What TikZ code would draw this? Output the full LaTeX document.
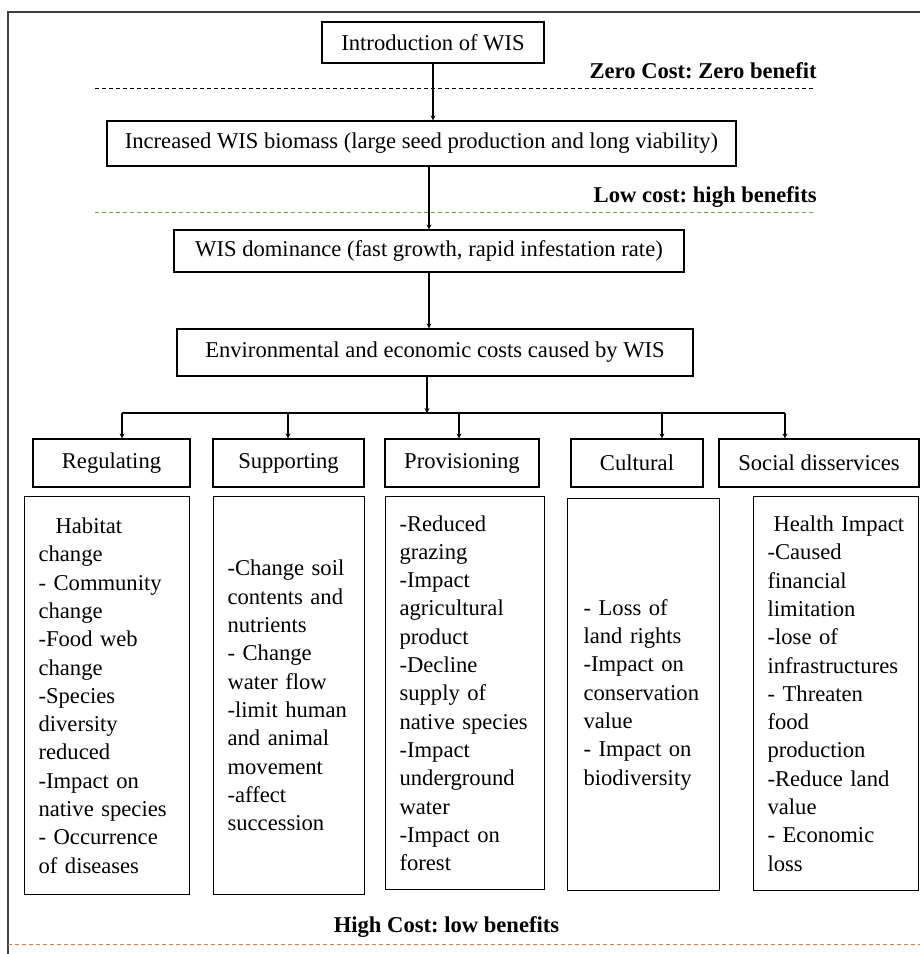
\documentclass[tikz,border=0pt]{standalone}
\usepackage{fontspec}
\setmainfont{Liberation Serif}
\frenchspacing
\usetikzlibrary{arrows.meta}
\definecolor{linegreen}{HTML}{70AD47}
\definecolor{lineorange}{HTML}{ED7D31}
\definecolor{framegray}{HTML}{404040}

\begin{document}
\begin{tikzpicture}[x=1pt, y=-1pt, thick,
    main node/.style={draw, line width=1.2pt, inner sep=0pt,
                      font=\fontsize{22.6}{28.3}\selectfont},
    head node/.style={main node, minimum height=48pt},
    list node/.style={main node, anchor=north west, align=left, inner xsep=14pt},
    cost label/.style={inner sep=0pt, font=\fontsize{22.6}{27}\selectfont\bfseries},
    cost line/.style={line width=1pt, dash pattern=on 4pt off 3pt},
    link/.style={line width=2pt, -{Stealth[length=5pt,width=5pt]}}]

  \useasboundingbox (0,0) rectangle (920,954);

  % frame
  \draw[framegray, line width=1.3pt] (920,12) -- (8,12) -- (8,954);

  % main chain
  \node[main node, minimum width=222pt, minimum height=41pt] (intro) at (433,42.5) {Introduction of WIS};
  \node[main node, minimum width=629pt, minimum height=45pt] (biomass) at (421.5,143.5)
    {Increased WIS biomass (large seed production and long viability)};
  \node[main node, minimum width=510pt, minimum height=42pt] (dominance) at (429,251)
    {WIS dominance (fast growth, rapid infestation rate)};
  \node[main node, minimum width=516pt, minimum height=47pt] (costs) at (435,352.5)
    {Environmental and economic costs caused by WIS};

  % cost levels
  \node[cost label, anchor=base east] (zero) at (817,78) {Zero Cost: Zero benefit};
  \draw[cost line] (95,88) -- (815,88);
  \node[cost label, anchor=base east] (low) at (817,202) {Low cost: high benefits};
  \draw[cost line, linegreen] (95,212) -- (815,212);
  \node[cost label, anchor=base] (high) at (446.5,932) {High Cost: low benefits};
  \draw[cost line, lineorange] (8,944) -- (920,944);

  % service types
  \node[head node, minimum width=157pt] (reg) at (111.5,463) {Regulating};
  \node[head node, minimum width=151pt] (sup) at (288.5,463) {Supporting};
  \node[head node, minimum width=154pt] (prov) at (462,463) {Provisioning};
  \node[head node, minimum width=132pt] (cult) at (637,463) {Cultural};
  \node[head node, minimum width=200pt] (soc) at (819,463) {Social disservices};

  % impacts
  \node[list node, text width=137pt, minimum height=398pt] (regl) at (24,496)
    {\hspace*{17pt}Habitat\\ change\\ - Community\\ change\\ -Food web\\ change\\ -Species\\
     diversity\\ reduced\\ -Impact on\\ native species\\ - Occurrence\\ of diseases};
  \node[list node, text width=123pt, minimum height=398pt] (supl) at (213,496)
    {-Change soil\\ contents and\\ nutrients\\ - Change\\ water flow\\ -limit human\\
     and animal\\ movement\\ -affect\\ succession};
  \node[list node, text width=131pt, minimum height=393pt] (provl) at (385,496)
    {-Reduced\\ grazing\\ -Impact\\ agricultural\\ product\\ -Decline\\ supply of\\
     native species\\ -Impact\\ underground\\ water\\ -Impact on\\ forest};
  \node[list node, inner xsep=16pt, text width=120pt, minimum height=392pt] (cultl) at (567,498)
    {- Loss of\\ land rights\\ -Impact on\\ conservation\\ value\\ - Impact on\\ biodiversity};
  \node[list node, text width=137pt, minimum height=394pt] (socl) at (753,496)
    {\hspace*{6pt}Health Impact\\ -Caused\\ financial\\ limitation\\ -lose of\\
     infrastructures\\ - Threaten\\ food\\ production\\ -Reduce land\\ value\\
     - Economic\\ loss};

  % connectors
  \coordinate (split) at (427,413);
  \coordinate (b1) at (122,413);
  \coordinate (b2) at (288,413);
  \coordinate (b3) at (459,413);
  \coordinate (b4) at (662,413);
  \coordinate (b5) at (785,413);

  \draw[link] (intro) -- (intro |- biomass.north);
  \draw[link] (dominance |- biomass.south) -- (dominance.north);
  \draw[link] (dominance.south) -- (dominance.south |- costs.north);
  \draw[link] (costs.south -| split) -- (split);
  \draw[line width=2pt] (b1) -- (b5);
  \draw[link] (b1) -- (b1 |- reg.north);
  \draw[link] (b2) -- (b2 |- sup.north);
  \draw[link] (b3) -- (b3 |- prov.north);
  \draw[link] (b4) -- (b4 |- cult.north);
  \draw[link] (b5) -- (b5 |- soc.north);

\end{tikzpicture}
\end{document}
